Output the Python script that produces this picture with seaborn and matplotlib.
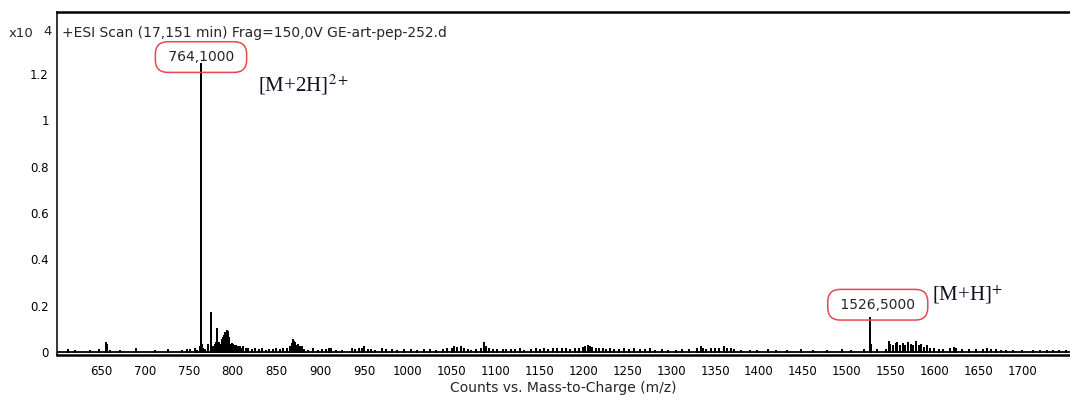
import numpy as np
import pandas as pd
import seaborn as sns
import matplotlib.pyplot as plt

sns.set_style('white')
plt.rcParams['font.family'] = ['DejaVu Sans']
plt.rcParams['mathtext.fontset'] = 'stix'

# Centroid peaks (m/z, counts x10^4)
peak_mz = [
    612, 620, 638, 648, 655.5, 656.5, 657.5, 660, 672, 690, 712, 727, 743, 748, 752, 757, 760, 762.5,
    764.1, 765.1, 766, 769, 772, 775.0, 775.8, 778, 780, 781, 782.5, 783.5, 785, 786.5, 788, 789, 790,
    791, 792, 793, 794, 795, 795.8, 797, 798.5, 800, 801, 802.5, 804, 806, 808, 810, 812, 815, 818,
    822, 826, 830, 834, 838, 842, 846, 850, 854, 858, 862, 865, 868, 869, 870, 871.5, 873, 875, 877,
    879, 882, 886, 892, 897,
    902, 907, 910, 912, 918, 925, 936, 940, 944, 948, 950, 954, 958, 962, 970, 975, 982, 988, 995,
    1003, 1010, 1018, 1025, 1032, 1040, 1045, 1050, 1053, 1056, 1060, 1064, 1068, 1072, 1078, 1083,
    1087, 1088.5, 1092, 1097,
    1102, 1108, 1112, 1118, 1122, 1128, 1132, 1140, 1146, 1150, 1155, 1160, 1165, 1170, 1176, 1180,
    1185, 1190, 1195, 1199,
    1202, 1205, 1207, 1210, 1214, 1218, 1222, 1226, 1230, 1235, 1240, 1246, 1252, 1258, 1264, 1270,
    1276, 1282, 1290, 1296,
    1305, 1312, 1320, 1330, 1334, 1336, 1340, 1345, 1350, 1355, 1360, 1364, 1368, 1372, 1380, 1390, 1398,
    1410, 1420, 1432, 1448, 1462, 1478, 1495, 1505, 1520,
    1526.5, 1527.5, 1535, 1545, 1548, 1550, 1553, 1556, 1558, 1561, 1564, 1567, 1570, 1573, 1576, 1579,
    1582, 1585, 1588, 1592, 1595, 1600, 1605, 1610, 1618, 1622, 1625, 1632, 1640, 1648, 1655, 1660,
    1665, 1670, 1676, 1682, 1690, 1700, 1712, 1720, 1728, 1735, 1742, 1750,
]
peak_int = [
    0.008, 0.006, 0.005, 0.007, 0.040, 0.030, 0.015, 0.006, 0.004, 0.012, 0.004, 0.008, 0.006, 0.010, 0.008, 0.012, 0.006, 0.020,
    1.240, 0.030, 0.012, 0.010, 0.030, 0.170, 0.160, 0.020, 0.030, 0.040, 0.100, 0.030, 0.040, 0.030, 0.050, 0.060, 0.070,
    0.065, 0.080, 0.075, 0.090, 0.085, 0.060, 0.030, 0.020, 0.035, 0.030, 0.025, 0.028, 0.020, 0.022, 0.015, 0.020, 0.012, 0.015,
    0.008, 0.015, 0.010, 0.012, 0.006, 0.010, 0.008, 0.012, 0.010, 0.014, 0.015, 0.020, 0.035, 0.050, 0.045, 0.040, 0.025, 0.030, 0.020,
    0.020, 0.008, 0.006, 0.012, 0.006,
    0.010, 0.008, 0.015, 0.012, 0.006, 0.004, 0.012, 0.010, 0.015, 0.012, 0.020, 0.010, 0.008, 0.006, 0.012, 0.008, 0.010, 0.006, 0.008,
    0.010, 0.006, 0.008, 0.010, 0.006, 0.008, 0.012, 0.015, 0.020, 0.018, 0.020, 0.015, 0.010, 0.006, 0.010, 0.012,
    0.040, 0.020, 0.012, 0.010,
    0.008, 0.010, 0.010, 0.008, 0.010, 0.012, 0.006, 0.008, 0.012, 0.010, 0.012, 0.010, 0.015, 0.012, 0.015, 0.012,
    0.010, 0.012, 0.015, 0.018,
    0.020, 0.025, 0.022, 0.018, 0.015, 0.012, 0.015, 0.010, 0.012, 0.008, 0.010, 0.012, 0.010, 0.012, 0.008, 0.010,
    0.012, 0.006, 0.008, 0.006,
    0.006, 0.010, 0.008, 0.015, 0.020, 0.012, 0.010, 0.015, 0.012, 0.015, 0.020, 0.015, 0.012, 0.008, 0.004, 0.004, 0.006,
    0.008, 0.006, 0.004, 0.010, 0.004, 0.006, 0.008, 0.006, 0.010,
    0.145, 0.030, 0.008, 0.010, 0.045, 0.030, 0.025, 0.035, 0.040, 0.025, 0.035, 0.025, 0.040, 0.030, 0.025, 0.045,
    0.025, 0.030, 0.018, 0.025, 0.015, 0.012, 0.008, 0.010, 0.012, 0.018, 0.012, 0.008, 0.010, 0.008, 0.010, 0.012,
    0.010, 0.008, 0.006, 0.004, 0.004, 0.006, 0.004, 0.006, 0.006, 0.006, 0.006, 0.006,
]

labelled_mz = [764.1, 1526.5]
labelled_txt = ['764,1000', '1526,5000']
ion_txt = [r'[M+2H]$^{2+}$', r'[M+H]$^{+}$']

x_ticks = list(range(650, 1701, 50))
y_ticks = [0, 0.2, 0.4, 0.6, 0.8, 1, 1.2]
y_labels = ['0', '0.2', '0.4', '0.6', '0.8', '1', '1.2']

# stick trace: baseline -> peak top -> baseline
xs, ys = [600], [0]
for mz, h in sorted(zip(peak_mz, peak_int)):
    xs += [mz, mz, mz]
    ys += [0, h, 0]
xs.append(1755)
ys.append(0)
trace = pd.DataFrame({'mz': xs, 'counts': ys})

fig = plt.figure(figsize=(10.7, 4.03), dpi=100)
ax = fig.add_axes([0.0533, 0.119, 0.947, 0.851])
sns.lineplot(data=trace, x='mz', y='counts', sort=False, estimator=None,
             color='black', linewidth=1.3, ax=ax)

ax.set_xlim(600, 1755)
ax.set_ylim(-0.013, 1.466)
ax.set_xticks(x_ticks)
ax.set_yticks(y_ticks)
ax.set_yticklabels(y_labels)
ax.tick_params(direction='out', length=4, width=1, labelsize=8.5, pad=2, colors='black')
ax.tick_params(axis='x', length=5)
for side in ['left', 'top', 'bottom']:
    ax.spines[side].set_color('black')
ax.spines['left'].set_linewidth(1.1)
ax.spines['top'].set_linewidth(1.8)
ax.spines['bottom'].set_linewidth(1.8)
ax.spines['right'].set_visible(False)

ax.set_xlabel('Counts vs. Mass-to-Charge (m/z)', fontsize=10, labelpad=2)
ax.set_ylabel('')

ax.text(0.005, 0.938, '+ESI Scan (17,151 min) Frag=150,0V GE-art-pep-252.d',
        transform=ax.transAxes, fontsize=10, ha='left', va='center')
fig.text(0.008, 0.916, 'x10', fontsize=9.5, ha='left', va='center')
fig.text(0.041, 0.922, '4', fontsize=9.5, ha='left', va='center')

box = dict(boxstyle='round,pad=0.6,rounding_size=0.9', facecolor='none',
           edgecolor='#e8474f', linewidth=1.1)
ax.text(labelled_mz[0], 1.272, ' ' + labelled_txt[0] + ' ', fontsize=10,
        ha='center', va='center', bbox=box)
ax.text(labelled_mz[1] + 9, 0.204, ' ' + labelled_txt[1] + ' ', fontsize=10,
        ha='center', va='center', bbox=box)

ax.text(829, 1.151, ion_txt[0], fontsize=15, ha='left', va='center',
        family=['Liberation Serif', 'DejaVu Serif'], color='#111122')
ax.text(1597, 0.247, ion_txt[1], fontsize=15, ha='left', va='center',
        family=['Liberation Serif', 'DejaVu Serif'], color='#111122')

fig.savefig('out.png', dpi=100)
